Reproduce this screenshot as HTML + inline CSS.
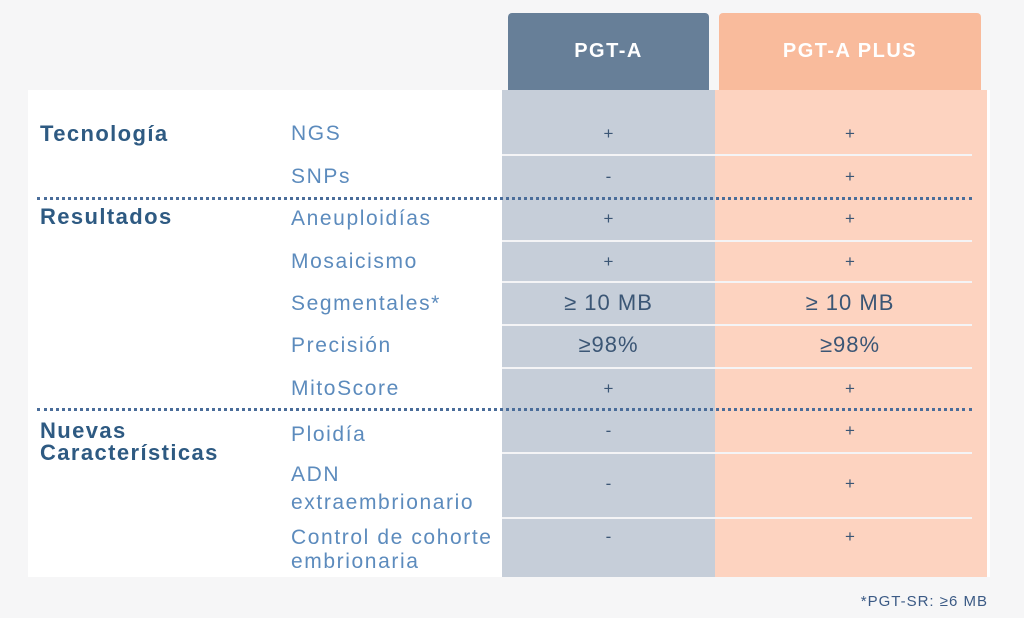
<!DOCTYPE html>
<html><head><meta charset="utf-8"><style>
body{margin:0;width:1024px;height:618px;background:#f6f6f7;position:relative;overflow:hidden;font-family:"Liberation Sans","DejaVu Sans",sans-serif}
div{position:absolute;box-sizing:border-box}
.panel{left:28px;top:90px;width:962px;height:487px;background:#fff}
.hA{left:508px;top:13px;width:201px;height:80px;background:#677f98;border-radius:4px 4px 0 0;color:#fff;font-weight:bold;font-size:20px;letter-spacing:1.5px;text-align:center;line-height:76px}
.hB{left:719px;top:13px;width:262px;height:80px;background:#f9bb9c;border-radius:4px 4px 0 0;color:#fff;font-weight:bold;font-size:20px;letter-spacing:1.5px;text-align:center;line-height:76px}
.cA{left:502px;top:90px;width:213px;height:487px;background:#c6ced9}
.cB{left:715px;top:90px;width:272px;height:487px;background:#fdd3c0}
.sep{left:502px;width:470px;height:2px;background:#f4f4f6}
.dot{left:37px;width:935px;height:0;border-top:3px dotted #4a6d9a}
.lab{left:291px;color:#5c8bbd;font-size:21px;letter-spacing:1.6px;line-height:24px}
.cat{left:40px;color:#2e5a82;font-weight:bold;font-size:22px;letter-spacing:1.4px;line-height:22px}
.v{font-size:17px;color:#3b5675;text-align:center;line-height:20px}
.va{left:502px;width:213px}.vb{left:715px;width:270px}
.big{font-size:22px;letter-spacing:1px}
</style></head><body>
<div class="panel"></div>
<div class="hA">PGT-A</div><div class="hB">PGT-A PLUS</div>
<div class="cA"></div><div class="cB"></div>
<div class="sep" style="top:154px"></div>
<div class="sep" style="top:240px"></div>
<div class="sep" style="top:281px"></div>
<div class="sep" style="top:324px"></div>
<div class="sep" style="top:367px"></div>
<div class="sep" style="top:452px"></div>
<div class="sep" style="top:517px"></div>
<div class="dot" style="top:197px"></div>
<div class="dot" style="top:408px"></div>
<div class="cat" style="top:123px">Tecnología</div>
<div class="cat" style="top:206px">Resultados</div>
<div class="cat" style="top:420px">Nuevas<br>Características</div>
<div class="lab" style="top:122px">NGS</div>
<div class="lab" style="top:165px">SNPs</div>
<div class="lab" style="top:207px">Aneuploidías</div>
<div class="lab" style="top:250px">Mosaicismo</div>
<div class="lab" style="top:292px">Segmentales*</div>
<div class="lab" style="top:334px">Precisión</div>
<div class="lab" style="top:377px">MitoScore</div>
<div class="lab" style="top:423px">Ploidía</div>
<div class="lab" style="top:461px;line-height:28px">ADN<br>extraembrionario</div>
<div class="lab" style="top:526px">Control de cohorte<br>embrionaria</div>
<div class="v va" style="top:124px">+</div><div class="v vb" style="top:124px">+</div>
<div class="v va" style="top:167px">-</div><div class="v vb" style="top:167px">+</div>
<div class="v va" style="top:209px">+</div><div class="v vb" style="top:209px">+</div>
<div class="v va" style="top:252px">+</div><div class="v vb" style="top:252px">+</div>
<div class="v va big" style="top:293px">≥ 10 MB</div><div class="v vb big" style="top:293px">≥ 10 MB</div>
<div class="v va big" style="top:335px">≥98%</div><div class="v vb big" style="top:335px">≥98%</div>
<div class="v va" style="top:379px">+</div><div class="v vb" style="top:379px">+</div>
<div class="v va" style="top:421px">-</div><div class="v vb" style="top:421px">+</div>
<div class="v va" style="top:474px">-</div><div class="v vb" style="top:474px">+</div>
<div class="v va" style="top:527px">-</div><div class="v vb" style="top:527px">+</div>
<div style="left:800px;top:593px;width:188px;text-align:right;font-size:15px;letter-spacing:1px;color:#3b5a85">*PGT-SR: ≥6 MB</div>
</body></html>
